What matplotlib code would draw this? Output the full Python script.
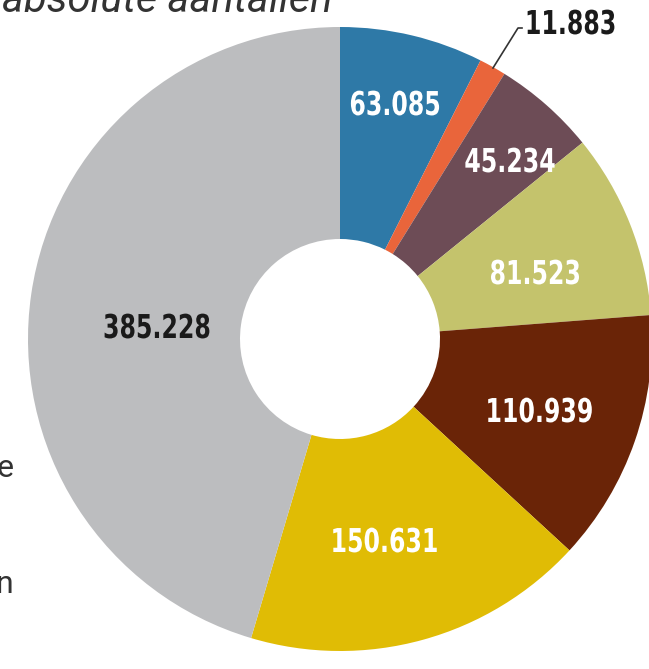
import matplotlib.pyplot as plt
from matplotlib.textpath import TextPath
from matplotlib.patches import PathPatch
from matplotlib.font_manager import FontProperties
from matplotlib.transforms import Affine2D

values = [63.085, 11.883, 45.234, 81.523, 110.939, 150.631, 385.228]
labels = ["63.085", "11.883", "45.234", "81.523", "110.939", "150.631", "385.228"]
colors = ["#2e79a7", "#e9653b", "#6d4c56", "#c4c36c", "#6a2407", "#e0bc05", "#bcbdbf"]
label_colors = ["white", "#1a1a1a", "white", "white", "white", "white", "#1a1a1a"]

W, H = 649, 669
fig = plt.figure(figsize=(W / 100, H / 100), dpi=100)
ax = fig.add_axes([0, 0, 1, 1])

# donut, clockwise from the top
cx, cy, r = 340, H - 339, 312
wedges, _ = ax.pie(values, colors=colors, startangle=90, counterclock=False,
                   center=(cx, cy), radius=r, frame=True,
                   wedgeprops={"width": 212, "linewidth": 0})
ax.set_xlim(0, W)
ax.set_ylim(0, H)
ax.set_aspect("equal")
ax.axis("off")

bold = FontProperties(family="DejaVu Sans", weight="bold")


def narrow_text(s, x, y, color, cap=24, squeeze=0.72):
    # condensed bold label, drawn as a path squeezed sideways
    size = cap / 0.73
    tp = TextPath((0, 0), s, size=size, prop=bold)
    ext = tp.get_extents()
    w = ext.width * squeeze
    tr = Affine2D().translate(-ext.x0, 0).scale(squeeze, 1).translate(x - w / 2, y - cap / 2)
    ax.add_patch(PathPatch(tr.transform_path(tp), fc=color, ec="none", zorder=5))


# label spots (pixels from top-left)
spots = [(395, 103), (571, 22), (510, 160), (535, 272), (540, 410), (385, 540), (157, 326)]
for lab, col, (x, y) in zip(labels, label_colors, spots):
    narrow_text(lab, x, H - y, col)

# leader for the small slice
ax.plot([493, 518, 522], [H - 68, H - 28, H - 28], color="#333333", lw=1.2, zorder=6)

# title cut off at the top
ax.text(2, H - 12, "absolute aantallen", fontsize=30, style="italic",
        color="#333333", ha="left", va="baseline", family="Roboto")

# legend fragments at the left edge
ax.text(-4, H - 477, "e", fontsize=23, color="#333333", ha="left", va="baseline", family="Roboto")
ax.text(-4, H - 593, "n", fontsize=23, color="#333333", ha="left", va="baseline", family="Roboto")

fig.savefig("out.png", dpi=100)
